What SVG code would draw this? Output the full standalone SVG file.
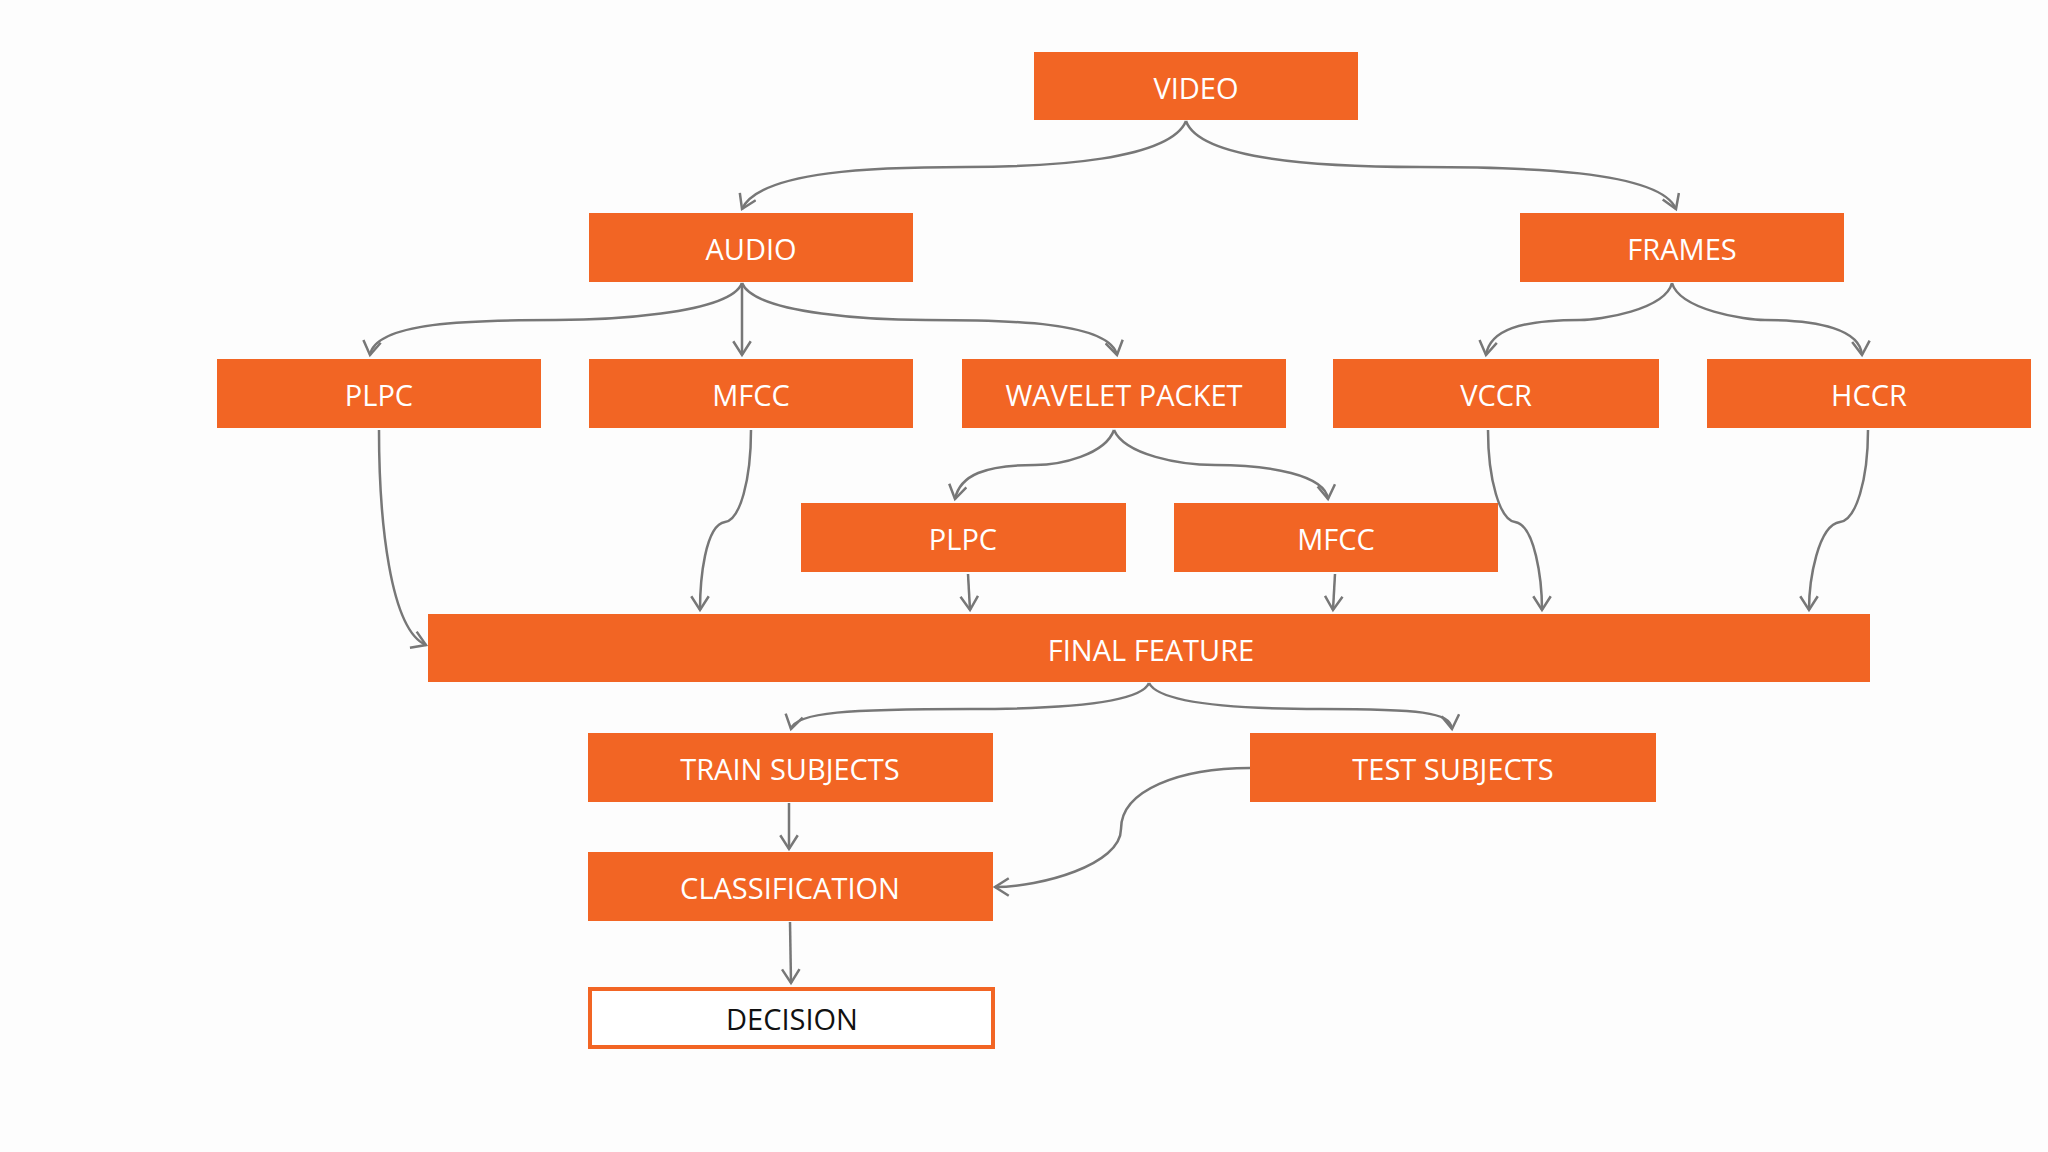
<svg xmlns="http://www.w3.org/2000/svg" width="2048" height="1152" viewBox="0 0 2048 1152">
<defs>
<style>
.b{fill:#F26524}
.t{fill:#fff;font-family:"Open Sans","Liberation Sans",sans-serif;font-size:29px;text-anchor:middle;dominant-baseline:central}
.c path{fill:none;stroke:#777;stroke-width:2.5;marker-end:url(#a)}
</style>
<marker id="a" markerUnits="userSpaceOnUse" markerWidth="20" markerHeight="20" refX="12" refY="8" orient="auto" viewBox="0 0 14 16">
<path d="M1,1 L12,8 L1,15" fill="none" stroke="#777" stroke-width="2"/>
</marker>
</defs>
<rect width="2048" height="1152" fill="#fdfdfd"/>
<g class="c">
<path d="M1186,121 C1170,160 1050,167 966,167 C880,167 760,170 742,209"/>
<path d="M1186,121 C1200,160 1320,167 1420,167 C1520,167 1660,170 1676,209"/>
<path d="M742,283 C730,315 600,320 556,320 C470,320 375,322 370,355"/>
<path d="M742,283 L742,355"/>
<path d="M742,283 C755,315 880,320 926,320 C1010,320 1110,322 1117,355"/>
<path d="M1672,283 C1665,310 1600,320 1580,320 C1520,320 1490,330 1486,355"/>
<path d="M1672,283 C1680,310 1745,320 1765,320 C1820,320 1860,330 1862,355"/>
<path d="M1114,430 C1105,455 1060,465 1035,465 C985,465 960,475 955,499"/>
<path d="M1114,430 C1125,455 1180,465 1215,465 C1270,465 1325,475 1328,499"/>
<path d="M379,430 C379,520 390,630 426,645"/>
<path d="M751,430 C751,480 740,520 725,522 C705,525 700,580 700,610"/>
<path d="M968,574 L970,610"/>
<path d="M1335,574 L1333,610"/>
<path d="M1488,430 C1488,480 1500,520 1515,522 C1535,525 1542,580 1542,610"/>
<path d="M1868,430 C1868,480 1856,520 1840,522 C1818,525 1809,580 1809,610"/>
<path d="M1149,683 C1140,705 1050,709 970,709 C850,709 795,712 791,729"/>
<path d="M1149,683 C1160,705 1250,709 1320,709 C1420,709 1450,712 1452,729"/>
<path d="M789,803 L789,849"/>
<path d="M1250,768 C1180,768 1121,790 1121,829 C1121,865 1040,887 995,887"/>
<path d="M790,922 L791,983"/>
</g>
<g id="video"><rect class="b" x="1034" y="52" width="324" height="68"/><text class="t" x="1196" y="87">VIDEO</text></g>
<g id="audio"><rect class="b" x="589" y="213" width="324" height="69"/><text class="t" x="751" y="248">AUDIO</text></g>
<g id="frames"><rect class="b" x="1520" y="213" width="324" height="69"/><text class="t" x="1682" y="248">FRAMES</text></g>
<g id="plpc1"><rect class="b" x="217" y="359" width="324" height="69"/><text class="t" x="379" y="394">PLPC</text></g>
<g id="mfcc1"><rect class="b" x="589" y="359" width="324" height="69"/><text class="t" x="751" y="394">MFCC</text></g>
<g id="wavelet"><rect class="b" x="962" y="359" width="324" height="69"/><text class="t" x="1124" y="394">WAVELET PACKET</text></g>
<g id="vccr"><rect class="b" x="1333" y="359" width="326" height="69"/><text class="t" x="1496" y="394">VCCR</text></g>
<g id="hccr"><rect class="b" x="1707" y="359" width="324" height="69"/><text class="t" x="1869" y="394">HCCR</text></g>
<g id="plpc2"><rect class="b" x="801" y="503" width="325" height="69"/><text class="t" x="963" y="538">PLPC</text></g>
<g id="mfcc2"><rect class="b" x="1174" y="503" width="324" height="69"/><text class="t" x="1336" y="538">MFCC</text></g>
<g id="final"><rect class="b" x="428" y="614" width="1442" height="68"/><text class="t" x="1151" y="649">FINAL FEATURE</text></g>
<g id="train"><rect class="b" x="588" y="733" width="405" height="69"/><text class="t" x="790" y="768">TRAIN SUBJECTS</text></g>
<g id="test"><rect class="b" x="1250" y="733" width="406" height="69"/><text class="t" x="1453" y="768">TEST SUBJECTS</text></g>
<g id="classification"><rect class="b" x="588" y="852" width="405" height="69"/><text class="t" x="790" y="887">CLASSIFICATION</text></g>
<g id="decision"><rect x="590" y="989" width="403" height="58" fill="#fff" stroke="#F26524" stroke-width="4"/><text class="t" x="792" y="1018" style="fill:#111">DECISION</text></g>
</svg>
